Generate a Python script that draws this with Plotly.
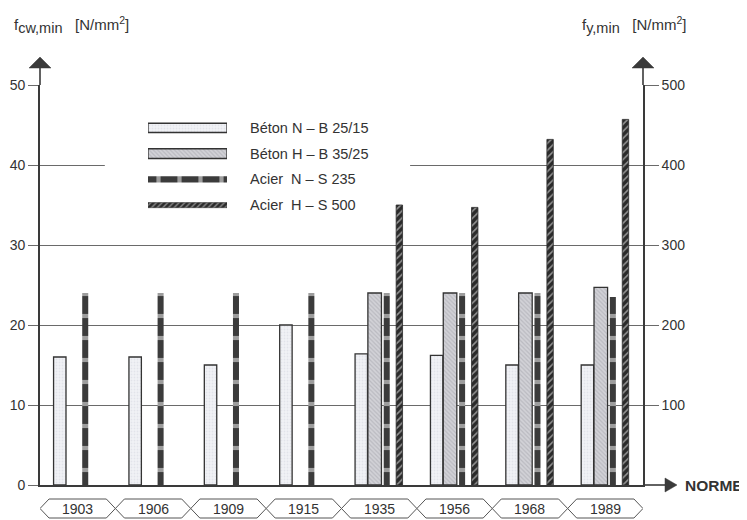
import plotly.graph_objects as go

# ---------------- data ----------------
years = ["1903", "1906", "1909", "1915", "1935", "1956", "1968", "1989"]
beton_N = [16, 16, 15, 20, 16.4, 16.2, 15, 15]            # left axis, N/mm2
beton_H = [None, None, None, None, 24, 24, 24, 24.7]       # left axis, N/mm2
acier_N = [240, 240, 240, 240, 240, 240, 240, 235]         # right axis, N/mm2
acier_H = [None, None, None, None, 350, 347, 432, 457]     # right axis, N/mm2
legend_labels = ["Béton N – B 25/15", "Béton H – B 35/25",
                 "Acier  N – S 235", "Acier  H – S 500"]
left_ticks = [0, 10, 20, 30, 40, 50]
right_ticks = [100, 200, 300, 400, 500]

FONT = "Liberation Sans, Arial, Helvetica, sans-serif"
TXT = "#333333"
AX = "#3a3a3a"
GRID = "#6a6a6a"

# page geometry: the page body has an 8px margin
OFF = 8
PAGE_W, PAGE_H = 747, 520
PL, PR, PT, PB = 40, 643, 85, 485          # plot area on the page (pixels)
FW, FH = PAGE_W - OFF, PAGE_H - OFF
L, R, T, B = PL - OFF, PAGE_W - PR, PT - OFF, PAGE_H - PB
PW, PH = PR - PL, PB - PT


def px(xp):
    return (xp - PL) / PW


def py(yp):
    return (PB - yp) / PH


x = list(range(len(years)))

styles = [
    dict(color="#f1f2f6", line=dict(color="#333333", width=1.3),
         pattern=dict(shape=".", fgcolor="#d3d6de", bgcolor="#f1f2f6", size=3, solidity=0.3)),
    dict(color="#cfcfd4", line=dict(color="#333333", width=1.3),
         pattern=dict(shape="\\", fgcolor="#a2a2aa", bgcolor="#d2d2d7", size=3, solidity=0.4)),
    dict(color="#3b3b3b", line=dict(color="#3b3b3b", width=0),
         pattern=dict(shape="-", fgcolor="#ffffff", bgcolor="#3b3b3b", size=22, solidity=0.19)),
    dict(color="#2b2b2b", line=dict(color="#2b2b2b", width=0.8),
         pattern=dict(shape="/", fgcolor="#ffffff", bgcolor="#2b2b2b", size=5, solidity=0.3)),
]

fig = go.Figure()
fig.add_bar(x=x, y=beton_N, offset=-0.32, width=0.165, marker=styles[0],
            yaxis="y", showlegend=False, name=legend_labels[0])
fig.add_bar(x=x, y=beton_H, offset=-0.15, width=0.18, marker=styles[1],
            yaxis="y", showlegend=False, name=legend_labels[1])
fig.add_bar(x=x, y=acier_N, offset=0.06, width=0.08, marker=styles[2],
            yaxis="y2", showlegend=False, name=legend_labels[2])
fig.add_bar(x=x, y=acier_H, offset=0.225, width=0.085, marker=styles[3],
            yaxis="y2", showlegend=False, name=legend_labels[3])

# ---- custom legend swatches on a hidden subplot ----
sw_thick = [0.36, 0.38, 0.24, 0.2]
leg_styles = [dict(styles[0]), dict(styles[1]), None, None]
leg_styles[2] = dict(color="#3b3b3b", line=dict(width=0),
                     pattern=dict(shape="|", fgcolor="#ffffff", bgcolor="#3b3b3b", size=21, solidity=0.2))
leg_styles[3] = dict(color="#2b2b2b", line=dict(color="#2b2b2b", width=0.5),
                     pattern=dict(shape="/", fgcolor="#ffffff", bgcolor="#2b2b2b", size=4, solidity=0.3))
for i, lab in enumerate(legend_labels):
    fig.add_bar(x=[1], y=[i], orientation="h", width=sw_thick[i], marker=leg_styles[i],
                xaxis="x2", yaxis="y3", showlegend=False, hoverinfo="skip")
    fig.add_annotation(text=lab, xref="paper", x=px(248), yref="y3", y=i,
                       xanchor="left", yanchor="middle", showarrow=False,
                       font=dict(size=14.5, color=TXT, family=FONT))

shapes = []
# white box behind legend interrupting grid lines
shapes.append(dict(type="rect", xref="x", yref="y", x0=0.36, x1=4.41, y0=32.9, y1=47.1,
                   fillcolor="white", line=dict(width=0), layer="between"))

# axis arrows
aw = 11
for xa in (0, 1):
    shapes.append(dict(type="line", xref="paper", yref="paper", x0=xa, x1=xa,
                       y0=1, y1=py(64), line=dict(color=AX, width=1.6), layer="above"))
    shapes.append(dict(type="path", xref="paper", yref="paper",
                       path=f"M {xa - aw / PW},{py(68)} L {xa + aw / PW},{py(68)} L {xa},{py(57)} Z",
                       fillcolor=AX, line=dict(color=AX, width=0.5), layer="above"))
shapes.append(dict(type="line", xref="paper", yref="paper", x0=1, x1=px(667),
                   y0=0, y1=0, line=dict(color=AX, width=1.6), layer="above"))
shapes.append(dict(type="path", xref="paper", yref="paper",
                   path=f"M {px(665)},{py(478)} L {px(665)},{py(492)} L {px(677)},{py(485)} Z",
                   fillcolor=AX, line=dict(color=AX, width=0.5), layer="above"))

# hexagon year labels
d = 0.12
yt, yb = py(499), py(518)
ym = (yt + yb) / 2
for k, yr in enumerate(years):
    a, b = k - 0.5, k + 0.5
    shapes.append(dict(type="path", xref="x", yref="paper",
                       path=(f"M {a},{ym} L {a + d},{yt} L {b - d},{yt} L {b},{ym} "
                             f"L {b - d},{yb} L {a + d},{yb} Z"),
                       line=dict(color="#555555", width=1), fillcolor="rgba(0,0,0,0)",
                       layer="above"))
    fig.add_annotation(text=yr, xref="x", x=k, yref="paper", y=ym, showarrow=False,
                       xanchor="center", yanchor="middle",
                       font=dict(size=14, color=TXT, family=FONT))

fig.add_annotation(text="<b>NORME</b>", xref="paper", x=px(683), yref="paper", y=0,
                   xanchor="left", yanchor="middle", showarrow=False,
                   font=dict(size=15.5, color=TXT, family=FONT))
sub_style = 'style="font-size:14.5px"'
fig.add_annotation(text=f'f<sub><span {sub_style}>cw,min</span></sub>&nbsp;&nbsp;&nbsp;[N/mm<sup>2</sup>]',
                   xref="paper", x=px(12),
                   yref="paper", y=py(25), xanchor="left", yanchor="middle", showarrow=False,
                   font=dict(size=15, color=TXT, family=FONT))
fig.add_annotation(text=f'f<sub><span {sub_style}>y,min</span></sub>&nbsp;&nbsp;&nbsp;[N/mm<sup>2</sup>]',
                   xref="paper", x=px(580),
                   yref="paper", y=py(25), xanchor="left", yanchor="middle", showarrow=False,
                   font=dict(size=15, color=TXT, family=FONT))

fig.update_layout(
    width=FW, height=FH,
    margin=dict(l=L, r=R, t=T, b=B, pad=0, autoexpand=False),
    paper_bgcolor="white", plot_bgcolor="rgba(0,0,0,0)",
    barmode="overlay", showlegend=False,
    font=dict(family=FONT, size=14, color=TXT),
    shapes=shapes,
    xaxis=dict(range=[-0.5, 7.5], showline=True, linecolor=AX, linewidth=1.6, automargin=False,
               showticklabels=False, ticks="", showgrid=False, zeroline=False, fixedrange=True),
    yaxis=dict(range=[0, 50], tickvals=left_ticks, showline=True, linecolor=AX, linewidth=1.6,
               ticks="outside", ticklen=10, tickcolor=GRID, tickwidth=1, automargin=False,
               showgrid=True, gridcolor=GRID, gridwidth=1, zeroline=False,
               tickfont=dict(size=14, color=TXT)),
    yaxis2=dict(range=[0, 500], tickvals=right_ticks, overlaying="y", side="right",
                showline=True, linecolor=AX, linewidth=1.6, automargin=False,
                ticks="outside", ticklen=14, tickcolor=GRID, tickwidth=1,
                showgrid=False, zeroline=False, tickfont=dict(size=14, color=TXT)),
    xaxis2=dict(domain=[px(148), px(227)], range=[0, 1], visible=False, anchor="y3",
                automargin=False),
    yaxis3=dict(domain=[py(218), py(115)], range=[3.5, -0.5], visible=False, anchor="x2",
                automargin=False),
)

fig.write_html("out.html")
